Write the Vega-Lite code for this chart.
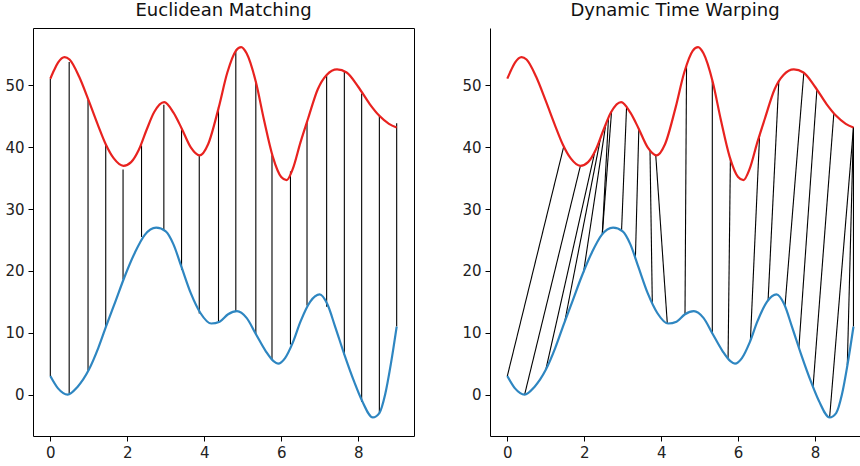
{
  "$schema": "https://vega.github.io/schema/vega-lite/v6.json",
  "padding": {"left": 4, "top": 1, "right": 0, "bottom": 0},
  "spacing": 46,
  "config": {
    "font": "DejaVu Sans",
    "view": {"stroke": "#000", "strokeWidth": 1},
    "axis": {"grid": false, "domain": false, "domainColor": "#000", "domainWidth": 1, "tickColor": "#000", "tickSize": 5, "labelPadding": 4, "labelFontSize": 15, "labelColor": "#222", "labelFont": "DejaVu Sans"},
    "title": {"fontSize": 18, "fontWeight": "normal", "font": "DejaVu Sans", "color": "#111", "offset": 8}
  },
  "datasets": {
    "curves": [
      {"series": "red", "x": 0, "y": 51.1}, {"series": "red", "x": 0.1, "y": 52.5}, {"series": "red", "x": 0.2, "y": 53.7},
      {"series": "red", "x": 0.37, "y": 54.6}, {"series": "red", "x": 0.5, "y": 54.2}, {"series": "red", "x": 0.75, "y": 51.4},
      {"series": "red", "x": 1.0, "y": 47.5}, {"series": "red", "x": 1.25, "y": 43.4}, {"series": "red", "x": 1.44, "y": 40.5},
      {"series": "red", "x": 1.65, "y": 38.2}, {"series": "red", "x": 1.9, "y": 37.0}, {"series": "red", "x": 2.1, "y": 37.6},
      {"series": "red", "x": 2.3, "y": 39.6}, {"series": "red", "x": 2.5, "y": 42.8}, {"series": "red", "x": 2.7, "y": 45.7},
      {"series": "red", "x": 2.96, "y": 47.3}, {"series": "red", "x": 3.2, "y": 45.6}, {"series": "red", "x": 3.41, "y": 43.1},
      {"series": "red", "x": 3.65, "y": 40.0}, {"series": "red", "x": 3.88, "y": 38.7}, {"series": "red", "x": 4.1, "y": 40.5},
      {"series": "red", "x": 4.37, "y": 46.3}, {"series": "red", "x": 4.6, "y": 52.1}, {"series": "red", "x": 4.82, "y": 55.6},
      {"series": "red", "x": 4.96, "y": 56.2}, {"series": "red", "x": 5.1, "y": 55.2}, {"series": "red", "x": 5.34, "y": 50.6},
      {"series": "red", "x": 5.55, "y": 44.5}, {"series": "red", "x": 5.78, "y": 38.5}, {"series": "red", "x": 6.0, "y": 35.2},
      {"series": "red", "x": 6.14, "y": 34.7}, {"series": "red", "x": 6.3, "y": 36.5}, {"series": "red", "x": 6.5, "y": 40.8},
      {"series": "red", "x": 6.7, "y": 44.7}, {"series": "red", "x": 6.95, "y": 49.4}, {"series": "red", "x": 7.18, "y": 51.7},
      {"series": "red", "x": 7.45, "y": 52.6}, {"series": "red", "x": 7.7, "y": 52.1}, {"series": "red", "x": 8.0, "y": 49.8},
      {"series": "red", "x": 8.3, "y": 47.0}, {"series": "red", "x": 8.55, "y": 45.1}, {"series": "red", "x": 8.8, "y": 43.8},
      {"series": "red", "x": 9.0, "y": 43.2},
      {"series": "blue", "x": 0, "y": 3.0}, {"series": "blue", "x": 0.2, "y": 1.0}, {"series": "blue", "x": 0.45, "y": 0.0},
      {"series": "blue", "x": 0.7, "y": 1.2}, {"series": "blue", "x": 1.0, "y": 4.0}, {"series": "blue", "x": 1.25, "y": 7.6},
      {"series": "blue", "x": 1.47, "y": 11.4}, {"series": "blue", "x": 1.7, "y": 15.2}, {"series": "blue", "x": 1.92, "y": 18.9},
      {"series": "blue", "x": 2.2, "y": 23.0}, {"series": "blue", "x": 2.45, "y": 25.8}, {"series": "blue", "x": 2.75, "y": 27.0},
      {"series": "blue", "x": 3.0, "y": 26.4}, {"series": "blue", "x": 3.2, "y": 24.3}, {"series": "blue", "x": 3.41, "y": 20.6},
      {"series": "blue", "x": 3.65, "y": 16.4}, {"series": "blue", "x": 3.9, "y": 13.2}, {"series": "blue", "x": 4.18, "y": 11.5},
      {"series": "blue", "x": 4.4, "y": 11.8}, {"series": "blue", "x": 4.62, "y": 13.0}, {"series": "blue", "x": 4.85, "y": 13.5},
      {"series": "blue", "x": 5.1, "y": 12.4}, {"series": "blue", "x": 5.34, "y": 9.8}, {"series": "blue", "x": 5.6, "y": 7.0},
      {"series": "blue", "x": 5.8, "y": 5.4}, {"series": "blue", "x": 5.92, "y": 5.0}, {"series": "blue", "x": 6.1, "y": 5.9},
      {"series": "blue", "x": 6.3, "y": 8.4}, {"series": "blue", "x": 6.5, "y": 11.8}, {"series": "blue", "x": 6.75, "y": 15.0},
      {"series": "blue", "x": 7.0, "y": 16.2}, {"series": "blue", "x": 7.2, "y": 14.6}, {"series": "blue", "x": 7.4, "y": 11.0},
      {"series": "blue", "x": 7.65, "y": 6.3}, {"series": "blue", "x": 7.9, "y": 2.0}, {"series": "blue", "x": 8.1, "y": -1.0},
      {"series": "blue", "x": 8.38, "y": -3.7}, {"series": "blue", "x": 8.55, "y": -3.0}, {"series": "blue", "x": 8.7, "y": 0.0},
      {"series": "blue", "x": 8.85, "y": 5.0}, {"series": "blue", "x": 9.0, "y": 11.0}
    ],
    "euclid": [
      {"x": 0.0, "top": 51.1, "bottom": 3.0}, {"x": 0.49, "top": 53.8, "bottom": 0.2}, {"x": 0.98, "top": 47.7, "bottom": 3.9},
      {"x": 1.44, "top": 40.5, "bottom": 11.1}, {"x": 1.89, "top": 36.4, "bottom": 18.6}, {"x": 2.37, "top": 40.3, "bottom": 25.5},
      {"x": 2.95, "top": 46.9, "bottom": 26.6}, {"x": 3.41, "top": 43.1, "bottom": 20.2}, {"x": 3.87, "top": 38.7, "bottom": 13.1},
      {"x": 4.37, "top": 46.6, "bottom": 11.6}, {"x": 4.82, "top": 55.8, "bottom": 13.5}, {"x": 5.34, "top": 50.6, "bottom": 9.7},
      {"x": 5.76, "top": 38.7, "bottom": 5.7}, {"x": 6.24, "top": 36.1, "bottom": 8.1}, {"x": 6.67, "top": 44.1, "bottom": 14.4},
      {"x": 7.18, "top": 51.6, "bottom": 14.2}, {"x": 7.64, "top": 52.3, "bottom": 6.4}, {"x": 8.09, "top": 48.7, "bottom": -1.2},
      {"x": 8.55, "top": 45.2, "bottom": -3.1}, {"x": 9.0, "top": 43.9, "bottom": 11.0}
    ],
    "dtw": [
      {"xr": 1.47, "yr": 40.2, "xb": 0.0, "yb": 3.0}, {"xr": 1.9, "yr": 37.0, "xb": 0.45, "yb": 0.0},
      {"xr": 2.28, "yr": 39.4, "xb": 1.0, "yb": 4.0}, {"xr": 2.43, "yr": 41.7, "xb": 1.49, "yb": 11.7},
      {"xr": 2.56, "yr": 43.7, "xb": 1.98, "yb": 19.7}, {"xr": 2.63, "yr": 44.7, "xb": 2.47, "yb": 26.0},
      {"xr": 2.71, "yr": 45.8, "xb": 2.47, "yb": 26.0}, {"xr": 3.1, "yr": 46.4, "xb": 2.97, "yb": 26.5},
      {"xr": 3.42, "yr": 43.0, "xb": 3.33, "yb": 22.0}, {"xr": 3.71, "yr": 39.5, "xb": 3.77, "yb": 14.8},
      {"xr": 3.86, "yr": 38.7, "xb": 4.16, "yb": 11.5}, {"xr": 4.66, "yr": 53.2, "xb": 4.62, "yb": 13.0},
      {"xr": 5.33, "yr": 50.8, "xb": 5.33, "yb": 9.9}, {"xr": 5.8, "yr": 38.2, "xb": 5.74, "yb": 5.8},
      {"xr": 6.56, "yr": 42.0, "xb": 6.32, "yb": 8.7}, {"xr": 7.06, "yr": 50.8, "xb": 6.78, "yb": 15.2},
      {"xr": 7.71, "yr": 52.1, "xb": 7.22, "yb": 14.3}, {"xr": 8.05, "yr": 49.4, "xb": 7.58, "yb": 7.5},
      {"xr": 8.49, "yr": 45.5, "xb": 7.95, "yb": 1.3}, {"xr": 9.0, "yr": 43.2, "xb": 8.38, "yb": -3.7},
      {"xr": 9.0, "yr": 43.2, "xb": 8.84, "yb": 4.8}, {"xr": 9.0, "yr": 43.2, "xb": 9.0, "yb": 11.0}
    ]
  },
  "hconcat": [
    {
      "title": "Euclidean Matching",
      "width": 381,
      "height": 408,
      "layer": [
        {
          "data": {"name": "euclid"},
          "mark": {"type": "rule", "color": "#000", "strokeWidth": 1.1},
          "encoding": {
            "x": {"field": "x", "type": "quantitative", "title": null, "scale": {"domain": [-0.45, 9.45], "nice": false, "zero": false}, "axis": {"values": [0, 2, 4, 6, 8]}},
            "y": {"field": "top", "type": "quantitative", "title": null, "scale": {"domain": [-6.7, 59.3], "nice": false, "zero": false}, "axis": {"values": [0, 10, 20, 30, 40, 50]}},
            "y2": {"field": "bottom"}
          }
        },
        {
          "data": {"name": "curves"},
          "mark": {"type": "line", "interpolate": "monotone", "strokeWidth": 2.2},
          "encoding": {
            "x": {"field": "x", "type": "quantitative", "title": null},
            "y": {"field": "y", "type": "quantitative", "title": null},
            "color": {"field": "series", "type": "nominal", "scale": {"domain": ["red", "blue"], "range": ["#e8221f", "#2e86c1"]}, "legend": null}
          }
        }
      ]
    },
    {
      "title": "Dynamic Time Warping",
      "width": 370,
      "height": 408,
      "view": {"stroke": null},
      "layer": [
        {
          "data": {"name": "dtw"},
          "mark": {"type": "rule", "color": "#000", "strokeWidth": 1.1},
          "encoding": {
            "x": {"field": "xr", "type": "quantitative", "title": null, "scale": {"domain": [-0.45, 9.17], "nice": false, "zero": false}, "axis": {"values": [0, 2, 4, 6, 8], "domain": true}},
            "y": {"field": "yr", "type": "quantitative", "title": null, "scale": {"domain": [-6.7, 59.3], "nice": false, "zero": false}, "axis": {"values": [0, 10, 20, 30, 40, 50], "domain": true}},
            "x2": {"field": "xb"},
            "y2": {"field": "yb"}
          }
        },
        {
          "data": {"name": "curves"},
          "mark": {"type": "line", "interpolate": "monotone", "strokeWidth": 2.2, "clip": true},
          "encoding": {
            "x": {"field": "x", "type": "quantitative", "title": null},
            "y": {"field": "y", "type": "quantitative", "title": null},
            "color": {"field": "series", "type": "nominal", "scale": {"domain": ["red", "blue"], "range": ["#e8221f", "#2e86c1"]}, "legend": null}
          }
        },
        {
          "mark": {"type": "rule", "color": "#000", "strokeWidth": 1},
          "encoding": {"y": {"datum": 59.3}}
        }
      ]
    }
  ]
}
